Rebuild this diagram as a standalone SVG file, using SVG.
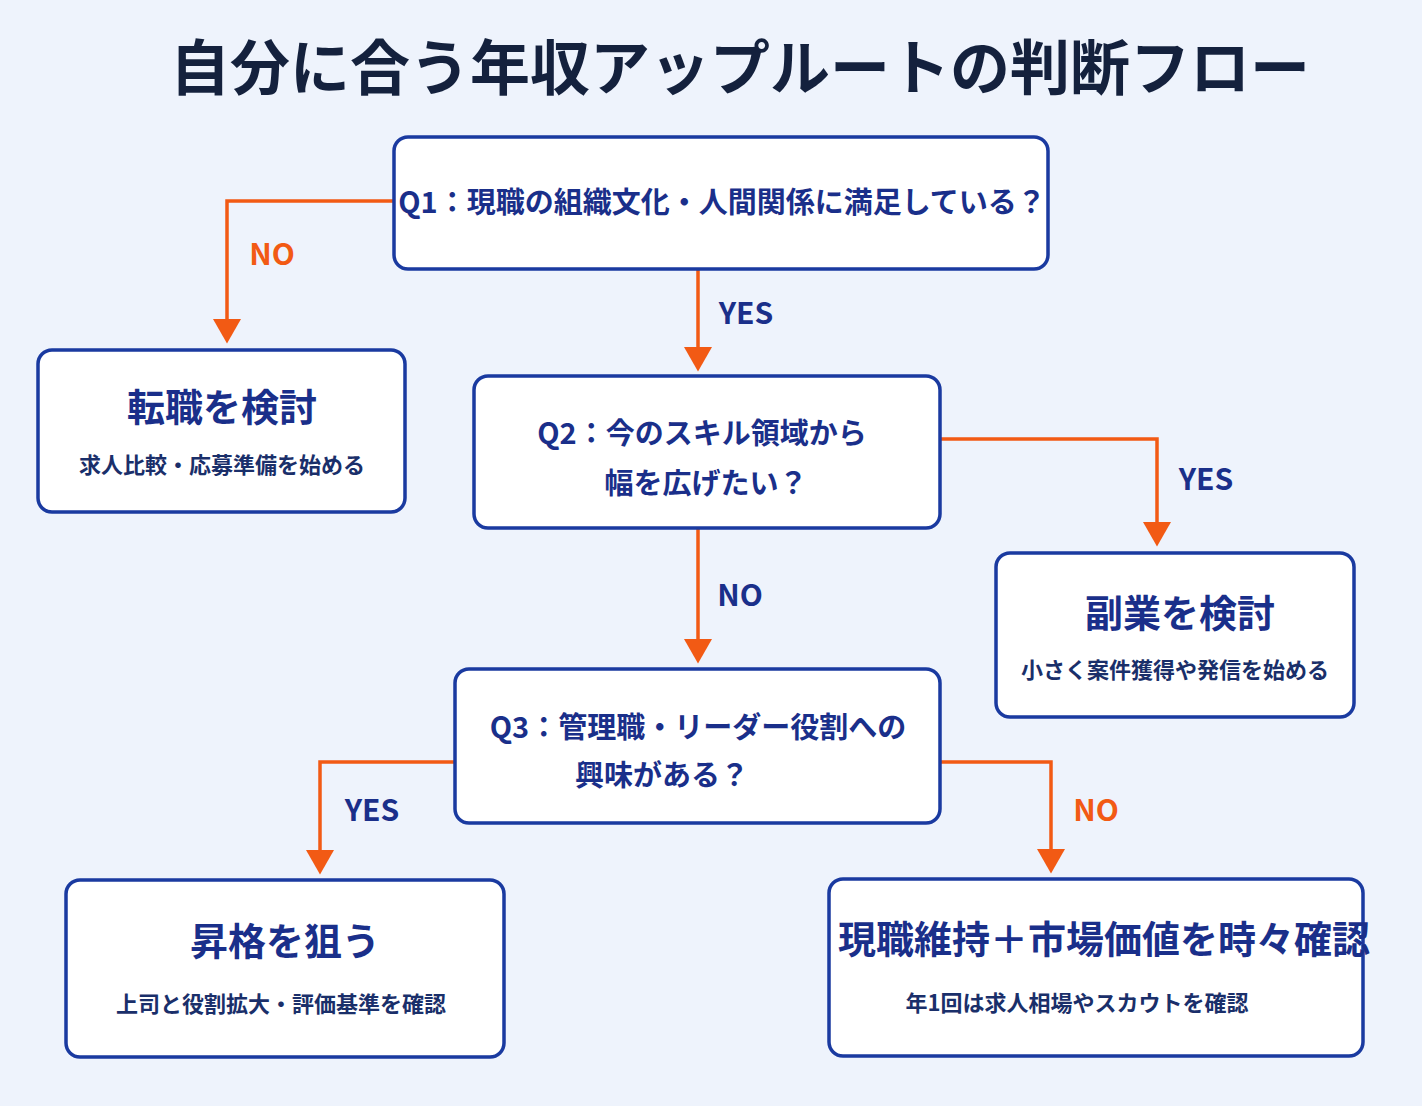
<svg xmlns="http://www.w3.org/2000/svg" width="1422" height="1106" viewBox="0 0 1422 1106">
<style>
text{font-family:"Noto Sans CJK JP","Noto Sans",sans-serif;font-weight:700;text-anchor:middle}
.box{fill:#fff;stroke:#1a3aa0;stroke-width:3.5}
.q{font-size:29px;fill:#1a2f8a}
.t{font-size:38px;fill:#1a2f8a}
.s{font-size:22px;fill:#1a2f6a}
.ln{fill:none;stroke:#f25a14;stroke-width:3.5}
.lb{font-size:30px;fill:#1a2f8a}
.lo{font-size:30px;fill:#f25a14}
</style>
<defs><marker id="ar" markerWidth="8" markerHeight="8" refX="6" refY="4" orient="auto" markerUnits="strokeWidth"><path d="M0,0 L7,4 L0,8 Z" fill="#f25a14"/></marker></defs>
<rect width="1422" height="1106" fill="#eef3fc"/>
<text x="740" y="90" font-size="60" fill="#14213d">自分に合う年収アップルートの判断フロー</text>
<g id="connectors">
<path class="ln" d="M394,201 H227 V340" marker-end="url(#ar)"/>
<path class="ln" d="M698,269 V368" marker-end="url(#ar)"/>
<path class="ln" d="M940,439 H1157 V543" marker-end="url(#ar)"/>
<path class="ln" d="M698,528 V660" marker-end="url(#ar)"/>
<path class="ln" d="M455,762 H320 V871" marker-end="url(#ar)"/>
<path class="ln" d="M940,762 H1051 V870" marker-end="url(#ar)"/>
<text class="lo" x="272" y="265">NO</text>
<text class="lb" x="746" y="324">YES</text>
<text class="lb" x="1206" y="490">YES</text>
<text class="lb" x="740" y="606">NO</text>
<text class="lb" x="372" y="821">YES</text>
<text class="lo" x="1096" y="821">NO</text>
</g>
<g id="q1"><rect class="box" x="394" y="137" width="654" height="132" rx="14"/><text class="q" x="722" y="213">Q1：現職の組織文化・人間関係に満足している？</text></g>
<g id="tenshoku"><rect class="box" x="38" y="350" width="367" height="162" rx="14"/><text class="t" x="222" y="421">転職を検討</text><text class="s" x="222" y="473">求人比較・応募準備を始める</text></g>
<g id="q2"><rect class="box" x="474" y="376" width="466" height="152" rx="14"/><text class="q" x="702" y="444">Q2：今のスキル領域から</text><text class="q" x="706" y="494">幅を広げたい？</text></g>
<g id="fukugyo"><rect class="box" x="996" y="553" width="358" height="164" rx="14"/><text class="t" x="1180" y="627">副業を検討</text><text class="s" x="1175" y="678">小さく案件獲得や発信を始める</text></g>
<g id="q3"><rect class="box" x="455" y="669" width="485" height="154" rx="14"/><text class="q" x="698" y="738">Q3：管理職・リーダー役割への</text><text class="q" x="662" y="786">興味がある？</text></g>
<g id="shokaku"><rect class="box" x="66" y="880" width="438" height="177" rx="14"/><text class="t" x="285" y="955">昇格を狙う</text><text class="s" x="281" y="1012">上司と役割拡大・評価基準を確認</text></g>
<g id="iji"><rect class="box" x="829" y="879" width="534" height="177" rx="14"/><text class="t" x="1104" y="953">現職維持＋市場価値を時々確認</text><text class="s" x="1077" y="1011">年1回は求人相場やスカウトを確認</text></g>
</svg>
